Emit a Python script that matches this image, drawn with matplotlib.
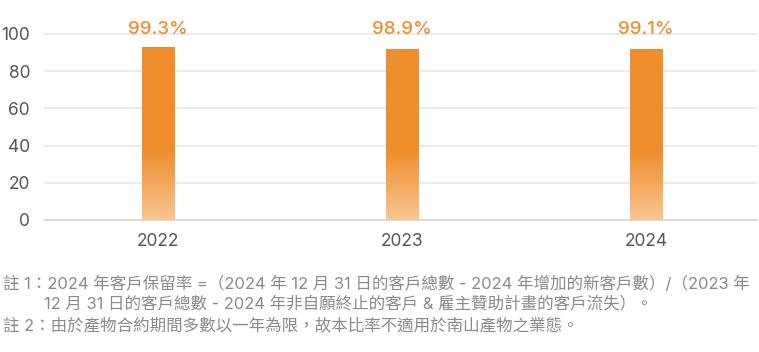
import numpy as np
import matplotlib.pyplot as plt
from matplotlib.colors import LinearSegmentedColormap

years = ["2022", "2023", "2024"]
bar_heights = [92.8, 92.0, 92.1]
rate_labels = ["99.3%", "98.9%", "99.1%"]
yticks = [0, 20, 40, 60, 80, 100]
notes = [
    "註 1：2024 年客戶保留率 =（2024 年 12 月 31 日的客戶總數 - 2024 年增加的新客戶數）/（2023 年",
    "12 月 31 日的客戶總數 - 2024 年非自願終止的客戶 & 雇主贊助計畫的客戶流失）。",
    "註 2：由於產物合約期間多數以一年為限，故本比率不適用於南山產物之業態。",
]

orange = "#EF8E2C"
light = "#F8C692"
tick_color = "#555555"
note_color = "#8a8a8a"
mixed = ["Inter", "Noto Sans CJK TC", "DejaVu Sans"]
num = ["Inter", "DejaVu Sans"]

W, H = 759, 352
fig = plt.figure(figsize=(W / 100, H / 100), dpi=100)

# 0 at y=220px, 100 at y=34px
ymax = 110
px_per_unit = (220 - 34) / 100
top_px = 220 - ymax * px_per_unit
ax = fig.add_axes([44 / W, 1 - 220 / H, (757 - 44) / W, (220 - top_px) / H])

ax.set_ylim(0, ymax)
ax.set_xlim(-0.467, 2.455)

x = np.arange(len(years))
bars = ax.bar(x, bar_heights, width=0.134, color="none", zorder=3)

# vertical gradient: solid orange at top, fading lighter toward the bottom
cmap = LinearSegmentedColormap.from_list("g", [(0, light), (0.4, orange), (1, orange)])
grad = np.linspace(0, 1, 256).reshape(-1, 1)
for b in bars:
    x0, w, h = b.get_x(), b.get_width(), b.get_height()
    im = ax.imshow(grad, cmap=cmap, aspect="auto", origin="lower",
                   extent=[x0, x0 + w, 0, h], zorder=3)
    im.set_clip_path(b)

for xi, lab in zip(x, rate_labels):
    ax.text(xi, 102.3, lab, ha="center", va="center", color=orange,
            fontsize=13.5, fontweight="medium", family=num, zorder=4)

ax.set_yticks(yticks)
ax.set_yticklabels([str(t) for t in yticks], family=num)
ax.set_xticks(x)
ax.set_xticklabels(years, family=num)
ax.tick_params(axis="both", length=0, colors=tick_color, labelsize=12.5)
ax.tick_params(axis="y", pad=10)
ax.tick_params(axis="x", pad=9)
ax.grid(axis="y", color="#e8e8e8", linewidth=1.2, zorder=0)
for s in ["top", "right", "left"]:
    ax.spines[s].set_visible(False)
ax.spines["bottom"].set_color("#d5d5d5")
ax.spines["bottom"].set_linewidth(1.2)

fs = 11.9
fig.text(3 / W, 1 - 284 / H, notes[0], color=note_color, fontsize=fs,
         family=mixed, va="center", ha="left")
fig.text(44 / W, 1 - 304 / H, notes[1], color=note_color, fontsize=fs,
         family=mixed, va="center", ha="left")
fig.text(3 / W, 1 - 325 / H, notes[2], color=note_color, fontsize=fs,
         family=mixed, va="center", ha="left")

fig.savefig("out.png", dpi=100)
